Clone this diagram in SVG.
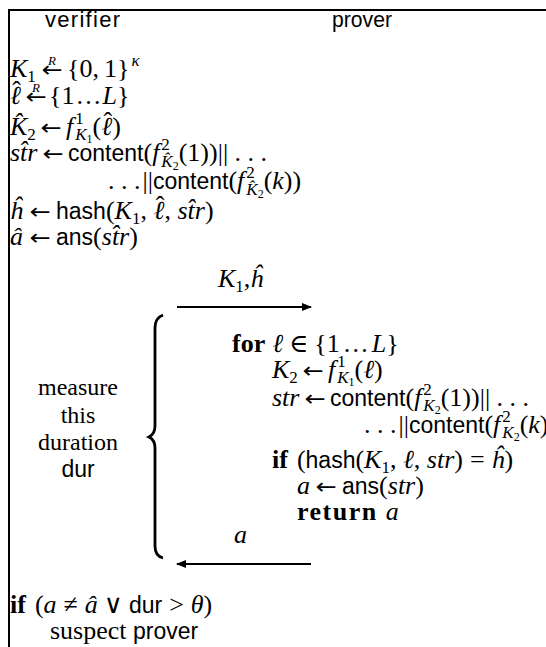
<svg xmlns="http://www.w3.org/2000/svg" width="546" height="647" viewBox="0 0 546 647">
<style>
.m{font-family:"Liberation Serif","DejaVu Serif",serif;font-size:26px;fill:#000}
.t{font-family:"Liberation Serif","DejaVu Serif",serif;font-size:24px;fill:#000;text-anchor:middle}
.i{font-style:italic}
.s{font-family:"Liberation Sans","DejaVu Sans",sans-serif;font-size:23px;font-style:normal}
.b{font-weight:bold}
.sc{font-size:17px}
.ss{font-size:12px}
.ar{font-family:"DejaVu Sans",sans-serif;font-size:22px;fill:#000;text-anchor:middle}
.hat{font-style:normal;font-size:26px}
.r{font-family:"Liberation Serif",serif;font-size:13px;font-style:italic;fill:#000;text-anchor:middle}
.hd{font-family:"Liberation Sans","DejaVu Sans",sans-serif;font-size:22px;fill:#000}
.ln{stroke:#000;stroke-width:2;fill:none}
</style>
<defs>
<marker id="ah" markerWidth="10" markerHeight="8" refX="9" refY="4" orient="auto" markerUnits="userSpaceOnUse">
<path d="M0,0 L10,4 L0,8 Z" fill="#000"/>
</marker>
</defs>
<rect width="546" height="647" fill="#fff"/>
<g id="frame">
<path class="ln" d="M9,647 V10 H546"/>
</g>
<g id="headers">
<text class="hd" x="45" y="27" textLength="75" lengthAdjust="spacing">verifier</text>
<text class="hd" x="332" y="27" textLength="60" lengthAdjust="spacingAndGlyphs">prover</text>
</g>
<g id="verifier">
<text class="m" x="10" y="77"><tspan class="i">K</tspan><tspan class="sc" dy="5">1</tspan></text>
<text class="ar" transform="translate(52,77) scale(1.15,1)">←</text>
<text class="r" x="52" y="65">R</text>
<text class="m" x="67" y="77">{0,<tspan dx="5">1}</tspan><tspan class="sc i" dy="-11" dx="2">κ</tspan></text>

<text class="m" x="10" y="104"><tspan class="i">ℓ</tspan><tspan class="hat" dx="-8.5" dy="-5">ˆ</tspan></text>
<text class="ar" transform="translate(36,104) scale(1.15,1)">←</text>
<text class="r" x="36" y="92">R</text>
<text class="m" x="49" y="104">{1<tspan dx="1">…</tspan><tspan class="i" dx="1">L</tspan>}</text>

<text class="m" x="10" y="135"><tspan class="i">K̂</tspan><tspan class="sc" dy="5">2</tspan></text>
<text class="ar" transform="translate(51,135) scale(1.15,1)">←</text>
<text class="m" x="66" y="135"><tspan class="i">f</tspan><tspan class="sc" dy="-11" dx="2">1</tspan><tspan class="sc i" dy="16" dx="-8.5">K</tspan><tspan class="ss" dy="3">1</tspan><tspan dy="-8">(</tspan><tspan class="i">ℓ</tspan><tspan class="hat" dx="-8.5" dy="-5">ˆ</tspan><tspan dy="5">)</tspan></text>

<text class="m i" x="10" y="161">st̂r</text>
<text class="ar" transform="translate(53,161) scale(1.15,1)">←</text>
<text class="m" x="68" y="161"><tspan class="s">content</tspan>(<tspan class="i">f</tspan><tspan class="sc" dy="-11" dx="2">2</tspan><tspan class="sc i" dy="17" dx="-8.5">K̂</tspan><tspan class="ss" dy="3">2</tspan><tspan dy="-9">(1))|| . . .</tspan></text>

<text class="m" x="108" y="189">. . .<tspan dx="2">||</tspan><tspan class="s">content</tspan>(<tspan class="i">f</tspan><tspan class="sc" dy="-11" dx="2">2</tspan><tspan class="sc i" dy="17" dx="-8.5">K̂</tspan><tspan class="ss" dy="3">2</tspan><tspan dy="-9">(</tspan><tspan class="i">k</tspan>))</text>

<text class="m i" x="10" y="219">ĥ</text>
<text class="ar" transform="translate(40,219) scale(1.15,1)">←</text>
<text class="m" x="56" y="219"><tspan class="s">hash</tspan>(<tspan class="i">K</tspan><tspan class="sc" dy="5">1</tspan><tspan dy="-5">, </tspan><tspan class="i">ℓ</tspan><tspan class="hat" dx="-8.5" dy="-5">ˆ</tspan><tspan dy="5">, </tspan><tspan class="i">st̂r</tspan>)</text>

<text class="m i" x="10" y="245">â</text>
<text class="ar" transform="translate(40,245) scale(1.15,1)">←</text>
<text class="m" x="56" y="245"><tspan class="s">ans</tspan>(<tspan class="i">st̂r</tspan>)</text>
</g>
<g id="measure">
<path d="M163,315 Q155,318 155,328 V426 Q155,434 149,437 Q155,440 155,448 V546 Q155,556 163,558" stroke="#000" stroke-width="2.8" fill="none"/>
<text class="t" x="78" y="395">measure</text>
<text class="t" x="78" y="423">this</text>
<text class="t" x="78" y="450">duration</text>
<text class="t s" x="78" y="477">dur</text>
</g>
<g id="prover">
<text class="m" x="232" y="352"><tspan class="b">for</tspan><tspan class="i" dx="7">ℓ</tspan><tspan dx="6">∈</tspan><tspan dx="6">{1</tspan><tspan dx="3">…</tspan><tspan class="i" dx="3">L</tspan>}</text>

<text class="m" x="272" y="378"><tspan class="i">K</tspan><tspan class="sc" dy="5">2</tspan></text>
<text class="ar" transform="translate(313,378) scale(1.15,1)">←</text>
<text class="m" x="328" y="378"><tspan class="i">f</tspan><tspan class="sc" dy="-11" dx="2">1</tspan><tspan class="sc i" dy="16" dx="-8.5">K</tspan><tspan class="ss" dy="3">1</tspan><tspan dy="-8">(</tspan><tspan class="i">ℓ</tspan>)</text>

<text class="m i" x="272" y="406">str</text>
<text class="ar" transform="translate(315,406) scale(1.15,1)">←</text>
<text class="m" x="330" y="406"><tspan class="s">content</tspan>(<tspan class="i">f</tspan><tspan class="sc" dy="-11" dx="2">2</tspan><tspan class="sc i" dy="16" dx="-8.5">K</tspan><tspan class="ss" dy="3">2</tspan><tspan dy="-8">(1))|| . . .</tspan></text>

<text class="m" x="364" y="433">. . .<tspan dx="2">||</tspan><tspan class="s">content</tspan>(<tspan class="i">f</tspan><tspan class="sc" dy="-11" dx="2">2</tspan><tspan class="sc i" dy="16" dx="-8.5">K</tspan><tspan class="ss" dy="3">2</tspan><tspan dy="-8">(</tspan><tspan class="i">k</tspan>))</text>

<text class="m" x="272" y="468"><tspan class="b">if</tspan><tspan dx="9">(</tspan><tspan class="s">hash</tspan>(<tspan class="i">K</tspan><tspan class="sc" dy="5">1</tspan><tspan dy="-5">, </tspan><tspan class="i">ℓ</tspan>, <tspan class="i">str</tspan>)<tspan dx="7">=</tspan><tspan class="i" dx="7">ĥ</tspan>)</text>

<text class="m i" x="297" y="494">a</text>
<text class="ar" transform="translate(326,494) scale(1.15,1)">←</text>
<text class="m" x="342" y="494"><tspan class="s">ans</tspan>(<tspan class="i">str</tspan>)</text>

<text class="m" x="297" y="520"><tspan class="b" letter-spacing="1.5">return</tspan><tspan class="i" dx="8">a</tspan></text>
</g>
<g id="connectors">
<line class="ln" x1="177" y1="307" x2="311" y2="307" marker-end="url(#ah)"/>
<line class="ln" x1="311" y1="564" x2="177" y2="564" marker-end="url(#ah)"/>
<text class="m" x="218" y="287"><tspan class="i">K</tspan><tspan class="sc" dy="5">1</tspan><tspan dy="-5">,</tspan><tspan class="i">ĥ</tspan></text>
<text class="m i" x="234" y="543">a</text>
</g>
<g id="decision">
<text class="m" x="10" y="613"><tspan class="b">if</tspan><tspan dx="9">(</tspan><tspan class="i">a</tspan><tspan dx="7">≠</tspan><tspan class="i" dx="7">â</tspan><tspan dx="6">∨</tspan><tspan class="s" dx="6">dur</tspan><tspan dx="7">&gt;</tspan><tspan class="i" dx="7">θ</tspan>)</text>
<text class="m" x="50" y="639">suspect <tspan class="s">prover</tspan></text>
</g>
</svg>
